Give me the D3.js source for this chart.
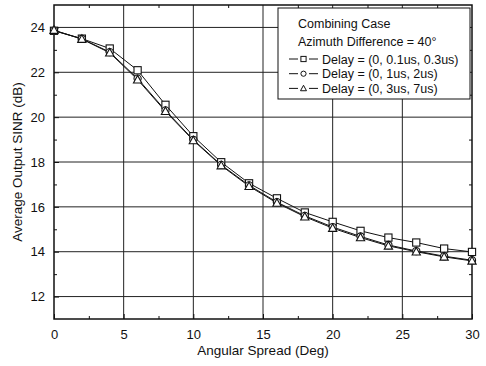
<!DOCTYPE html>
<html>
<head>
<meta charset="utf-8">
<script src="https://cdn.jsdelivr.net/npm/d3@7"></script>
<style>
  body { margin: 0; background: #fff; }
  text { font-family: "Liberation Sans", Arial, sans-serif; fill: #111; }
</style>
</head>
<body>
<div id="chart"></div>
<script>
// data
const spread = [0, 2, 4, 6, 8, 10, 12, 14, 16, 18, 20, 22, 24, 26, 28, 30];
const delayShort = [23.85, 23.5, 23.06, 22.09, 20.55, 19.15, 17.99, 17.05, 16.38, 15.75, 15.33, 14.93, 14.63, 14.41, 14.14, 13.99];
const delayMid   = [23.86, 23.49, 22.9, 21.72, 20.3, 18.99, 17.87, 16.96, 16.21, 15.6, 15.1, 14.68, 14.3, 14.03, 13.8, 13.62];
const delayLong  = [23.88, 23.48, 22.87, 21.67, 20.26, 18.96, 17.84, 16.92, 16.17, 15.56, 15.05, 14.63, 14.26, 14.0, 13.77, 13.59];
const xTicks = [0, 5, 10, 15, 20, 25, 30];
const yTicks = [12, 14, 16, 18, 20, 22, 24];
const legendTitle = ["Combining Case", "Azimuth Difference = 40°"];
const seriesNames = ["Delay = (0, 0.1us, 0.3us)", "Delay = (0, 1us, 2us)", "Delay = (0, 3us, 7us)"];

const W = 486, H = 366;
const margin = { top: 5, right: 14, bottom: 47, left: 54 };
const w = W - margin.left - margin.right;
const h = H - margin.top - margin.bottom;

const svg = d3.select("#chart").append("svg")
    .attr("width", W)
    .attr("height", H);

const g = svg.append("g")
    .attr("transform", `translate(${margin.left},${margin.top})`);

const x = d3.scaleLinear().domain([0, 30]).range([0, w]);
const y = d3.scaleLinear().domain([11, 25]).range([h, 0]);

// grid
g.selectAll(".vgrid").data(xTicks.slice(1, -1)).enter().append("line")
    .attr("x1", d => x(d)).attr("x2", d => x(d))
    .attr("y1", 0).attr("y2", h)
    .attr("stroke", "#222").attr("stroke-width", 1);
g.selectAll(".hgrid").data(yTicks).enter().append("line")
    .attr("x1", 0).attr("x2", w)
    .attr("y1", d => y(d)).attr("y2", d => y(d))
    .attr("stroke", "#222").attr("stroke-width", 1);

// axes with inward ticks
const minorX = d3.range(2.5, 30, 5);
const minorY = d3.range(13, 25, 2);

g.append("g").attr("transform", `translate(0,${h})`)
    .call(d3.axisBottom(x).tickValues(xTicks).tickSize(-5).tickPadding(11).tickFormat(d3.format("d")))
    .call(a => a.select(".domain").remove());
g.append("g").attr("transform", `translate(0,${h})`)
    .call(d3.axisBottom(x).tickValues(minorX).tickSize(-3).tickFormat(""))
    .call(a => a.select(".domain").remove());
g.append("g")
    .call(d3.axisLeft(y).tickValues(yTicks).tickSize(-5).tickPadding(9).tickFormat(d3.format("d")))
    .call(a => a.select(".domain").remove());
g.append("g")
    .call(d3.axisLeft(y).tickValues(minorY).tickSize(-3).tickFormat(""))
    .call(a => a.select(".domain").remove());
g.append("g").attr("transform", `translate(${w},0)`)
    .call(d3.axisRight(y).tickValues(minorY).tickSize(-3).tickFormat(""))
    .call(a => a.select(".domain").remove());
g.append("g")
    .call(d3.axisTop(x).tickValues(minorX).tickSize(-3).tickFormat(""))
    .call(a => a.select(".domain").remove());

g.selectAll(".tick text").style("font-size", "13px").attr("fill", "#111");
g.selectAll(".tick line").attr("stroke", "#111");

g.append("rect")
    .attr("width", w).attr("height", h)
    .attr("fill", "none").attr("stroke", "#111").attr("stroke-width", 1.5);

// series
const line = d3.line().x((d, i) => x(spread[i])).y(d => y(d));
const series = [
  { vals: delayShort, shape: "square" },
  { vals: delayMid, shape: "circle" },
  { vals: delayLong, shape: "triangle" }
];

function drawMarker(sel, shape, cx, cy, s) {
  if (shape === "square") {
    sel.append("rect").attr("x", cx - s).attr("y", cy - s)
      .attr("width", 2 * s).attr("height", 2 * s);
  } else if (shape === "circle") {
    sel.append("circle").attr("cx", cx).attr("cy", cy).attr("r", s);
  } else {
    sel.append("path")
      .attr("d", `M${cx},${cy - s * 1.2}L${cx + s * 1.15},${cy + s * 0.9}L${cx - s * 1.15},${cy + s * 0.9}Z`);
  }
}

series.forEach(s => {
  g.append("path").datum(s.vals)
    .attr("d", line)
    .attr("fill", "none").attr("stroke", "#111").attr("stroke-width", 1);
});
series.forEach(s => {
  const mg = g.append("g").attr("fill", "#fff").attr("stroke", "#111").attr("stroke-width", 1.1);
  s.vals.forEach((v, i) => drawMarker(mg, s.shape, x(spread[i]), y(v), 3.6));
});

// legend
const lg = svg.append("g").attr("transform", "translate(278,8)");
lg.append("rect").attr("width", 192).attr("height", 91)
  .attr("fill", "#fff").attr("stroke", "#111").attr("stroke-width", 1);
legendTitle.forEach((t, i) => {
  lg.append("text").attr("x", 20).attr("y", 20 + i * 17.5)
    .style("font-size", "12.5px").text(t);
});
seriesNames.forEach((t, i) => {
  const yy = 51 + i * 14.7;
  lg.append("line").attr("x1", 11).attr("x2", 20).attr("y1", yy).attr("y2", yy)
    .attr("stroke", "#111").attr("stroke-width", 1);
  lg.append("line").attr("x1", 31).attr("x2", 40).attr("y1", yy).attr("y2", yy)
    .attr("stroke", "#111").attr("stroke-width", 1);
  const mg = lg.append("g").attr("fill", "#fff").attr("stroke", "#111").attr("stroke-width", 1);
  drawMarker(mg, series[i].shape, 25.5, yy, 2.6);
  lg.append("text").attr("x", 44).attr("y", yy + 4.5)
    .style("font-size", "12.5px").text(t);
});

// axis titles
svg.append("text")
  .attr("x", margin.left + w / 2).attr("y", 355)
  .attr("text-anchor", "middle")
  .style("font-size", "13.5px").text("Angular Spread (Deg)");
svg.append("text")
  .attr("transform", `translate(22,${margin.top + h / 2}) rotate(-90)`)
  .attr("text-anchor", "middle")
  .style("font-size", "13.5px").text("Average Output SINR (dB)");
</script>
</body>
</html>
